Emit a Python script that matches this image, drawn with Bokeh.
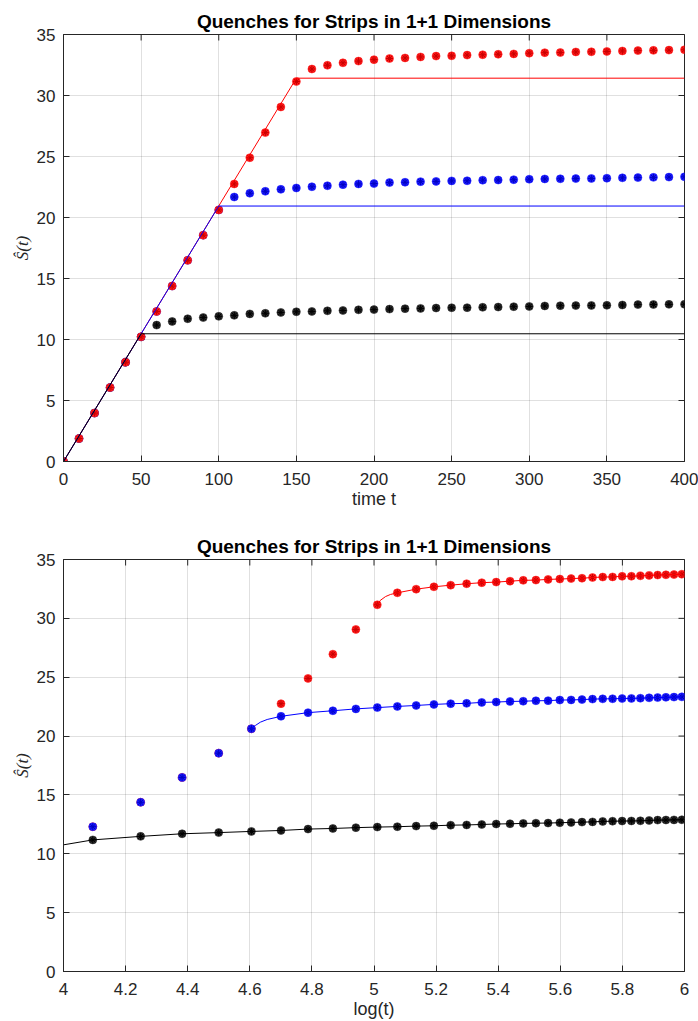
import math
from bokeh.plotting import figure
from bokeh.layouts import column
from bokeh.models import Range1d, FixedTicker, NumeralTickFormatter
from bokeh.embed import file_html
from bokeh.resources import INLINE

# ---------------- data ----------------
t_vals = list(range(0, 401, 10))

red_S = [0, 1.88, 3.97, 6.06, 8.14, 10.22, 12.30, 14.38, 16.49, 18.55, 20.62,
         22.75, 24.90, 26.96, 29.06, 31.15,
         32.17, 32.48, 32.68, 32.82, 32.94, 33.03, 33.08, 33.16, 33.23, 33.25,
         33.31, 33.34, 33.38, 33.41, 33.47, 33.51, 33.52, 33.57, 33.58, 33.61,
         33.65, 33.68, 33.70, 33.72, 33.75]
blue_S = [0, 1.88, 3.97, 6.06, 8.14, 10.22, 12.30, 14.38, 16.49, 18.55, 20.62,
          21.68, 21.99, 22.15, 22.31, 22.42, 22.52, 22.60, 22.69, 22.75, 22.78,
          22.86, 22.89, 22.94, 22.96, 23.00, 23.01, 23.06, 23.07, 23.10, 23.14,
          23.16, 23.17, 23.19, 23.20, 23.22, 23.25, 23.27, 23.29, 23.31, 23.33]
black_S = [0, 1.88, 3.97, 6.06, 8.14, 10.22,
           11.18, 11.48, 11.70, 11.80, 11.90, 11.98, 12.10, 12.15, 12.22, 12.27,
           12.30, 12.35, 12.38, 12.43, 12.45, 12.49, 12.53, 12.55, 12.58, 12.60,
           12.61, 12.64, 12.66, 12.69, 12.71, 12.75, 12.77, 12.78, 12.79, 12.80,
           12.83, 12.86, 12.87, 12.88, 12.89]

# saturation lines (top panel)
red_line_t = [0, 150, 400]
red_line_S = [0, 31.42, 31.42]
blue_line_t = [0, 100, 400]
blue_line_S = [0, 20.94, 20.94]
black_line_t = [0, 50, 400]
black_line_S = [0, 10.47, 10.47]

# fitted curves (bottom panel): leading read points, then through data
red_fit_start_t = 160
red_fit_lead_x = [5.011, 5.020, 5.037, 5.053]
red_fit_lead_S = [31.15, 31.52, 31.85, 32.03]
blue_fit_start_t = 110
blue_fit_lead_x = [4.605, 4.618, 4.634, 4.656]
blue_fit_lead_S = [20.62, 20.90, 21.18, 21.41]
black_fit_start_t = 60
black_fit_lead_x = [4.0]
black_fit_lead_S = [10.76]

x_ticks_top = [0, 50, 100, 150, 200, 250, 300, 350, 400]
x_ticks_bot = [4, 4.2, 4.4, 4.6, 4.8, 5, 5.2, 5.4, 5.6, 5.8, 6]
y_ticks = [0, 5, 10, 15, 20, 25, 30, 35]

TITLE = "Quenches for Strips in 1+1 Dimensions"
FONT = "Liberation Sans"
AX = "#262626"

COLORS = {"red": ("#ff1a1a", "#c80000"),
          "blue": ("#1a1aff", "#0000c0"),
          "black": ("#2a2a2a", "#000000")}


def make_fig(height, xr, xticks, xlabel, top_b, bot_b, fmt=None):
    p = figure(width=698, height=height, output_backend="svg", toolbar_location=None,
               x_range=Range1d(*xr), y_range=Range1d(0, 35),
               min_border_left=63, min_border_right=14,
               min_border_top=top_b, min_border_bottom=bot_b)
    p.title.text = TITLE
    p.title.align = "center"
    p.title.text_font = FONT
    p.title.text_font_size = "19px"
    p.title.text_font_style = "bold"
    p.title.text_color = "#000000"
    p.title.standoff = 6
    p.outline_line_color = AX
    p.outline_line_width = 1
    p.background_fill_color = "white"
    p.border_fill_color = "white"
    for g in (p.xgrid[0], p.ygrid[0]):
        g.grid_line_color = AX
        g.grid_line_alpha = 0.14
    p.xgrid[0].ticker = FixedTicker(ticks=xticks)
    p.ygrid[0].ticker = FixedTicker(ticks=y_ticks)

    xa = p.xaxis[0]
    xa.ticker = FixedTicker(ticks=xticks)
    if fmt is not None:
        xa.formatter = fmt
    ya = p.yaxis[0]
    ya.ticker = FixedTicker(ticks=y_ticks)
    for a in (xa, ya):
        a.axis_line_color = AX
        a.major_tick_line_color = AX
        a.major_tick_in = 6
        a.major_tick_out = 0
        a.minor_tick_line_color = None
        a.major_label_text_font = FONT
        a.major_label_text_font_size = "17px"
        a.major_label_text_color = AX
    xa.major_label_standoff = 11
    ya.major_label_standoff = 8
    xa.axis_label = xlabel
    xa.axis_label_text_font = FONT
    xa.axis_label_text_font_size = "18px"
    xa.axis_label_text_font_style = "normal"
    xa.axis_label_text_color = AX
    xa.axis_label_standoff = 1
    ya.axis_label = "Ŝ(t)"
    ya.axis_label_text_font = "Liberation Serif"
    ya.axis_label_text_font_size = "17px"
    ya.axis_label_text_font_style = "italic"
    ya.axis_label_text_color = AX
    ya.axis_label_standoff = 2

    # inward ticks on the top and right edges of the box
    p.scatter(xticks, [xr[1] * 0 + 35] * len(xticks), marker="dash", angle=math.pi / 2,
              size=12, line_color=AX, line_width=1)
    p.scatter([xr[1]] * len(y_ticks), y_ticks, marker="dash", size=12,
              line_color=AX, line_width=1)
    return p


def points(p, x, y, key):
    fill, edge = COLORS[key]
    p.scatter(x, y, marker="circle", size=8, fill_color=fill, line_color=fill, line_width=0.5)
    p.scatter(x, y, marker="asterisk", size=7, line_color=edge, line_width=1)


# ---------------- top panel ----------------
p1 = make_fig(525, (0, 400), x_ticks_top, "time t", 34, 64)
points(p1, t_vals, black_S, "black")
points(p1, t_vals, blue_S, "blue")
points(p1, t_vals, red_S, "red")
p1.line(red_line_t, red_line_S, line_color="#ff0000", line_width=1)
p1.line(blue_line_t, blue_line_S, line_color="#0000ff", line_width=1)
p1.line(black_line_t, black_line_S, line_color="#000000", line_width=1)

# ---------------- bottom panel ----------------
p2 = make_fig(496, (4, 6), x_ticks_bot, "log(t)", 34, 50,
              fmt=NumeralTickFormatter(format="0.[0]"))
lt = [math.log(v) for v in t_vals[1:]]
points(p2, lt, red_S[1:], "red")
points(p2, lt, blue_S[1:], "blue")
points(p2, lt, black_S[1:], "black")


def fit_curve(lead_x, lead_S, start_t, S):
    xs = list(lead_x)
    ys = list(lead_S)
    for tv, sv in zip(t_vals, S):
        if tv >= start_t:
            xs.append(math.log(tv))
            ys.append(sv)
    return xs, ys


for lead_x, lead_S, st, S, col in (
        (red_fit_lead_x, red_fit_lead_S, red_fit_start_t, red_S, "#ff0000"),
        (blue_fit_lead_x, blue_fit_lead_S, blue_fit_start_t, blue_S, "#0000ff"),
        (black_fit_lead_x, black_fit_lead_S, black_fit_start_t, black_S, "#000000")):
    xs, ys = fit_curve(lead_x, lead_S, st, S)
    p2.line(xs, ys, line_color=col, line_width=1)

layout = column(p1, p2, spacing=0)
open("out.html", "w").write(file_html(layout, INLINE))
